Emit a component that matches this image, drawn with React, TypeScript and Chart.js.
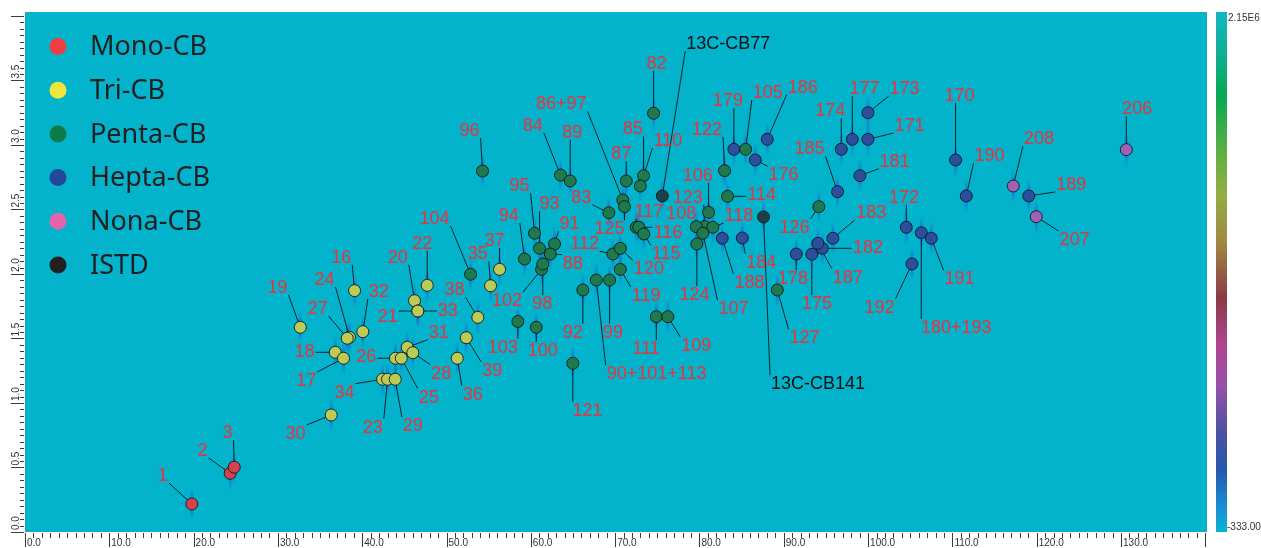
import { useEffect, useRef } from 'react';
import { Chart, registerables } from 'chart.js';

Chart.register(...registerables);

// ---- Axis ranges / ticks ----
const X_MIN = 0;
const X_MAX = 140.2;
const Y_MIN = 0;
const Y_MAX = 4.031;
const X_TICK_LABELS = [0, 10, 20, 30, 40, 50, 60, 70, 80, 90, 100, 110, 120, 130];
const Y_TICK_LABELS = [0, 0.5, 1.0, 1.5, 2.0, 2.5, 3.0, 3.5];
const COLORBAR_MAX = '2.15E6';
const COLORBAR_MIN = '-333.00';

// ---- Mono-CB ----
const MONO_NAMES = ['1', '2', '3'];
const MONO_RT1 = [19.79, 24.34, 24.82];
const MONO_RT2 = [0.217, 0.455, 0.502];
const MONO_LBL_X = [16.35, 21.06, 24.02];
const MONO_LBL_Y = [0.442, 0.636, 0.775];

// ---- Tri-CB ----
const TRI_NAMES = ['19', '16', '24', '27', '32', '18', '17', '20', '22', '21', '33', '31', '28', '26', '25', '34', '23', '29', '30', '35', '37', '38', '39', '36'];
const TRI_RT1 = [32.65, 39.09, 38.49, 38.22, 40.07, 36.8, 37.78, 46.2, 47.71, 46.59, 46.59, 45.34, 46.0, 43.95, 44.63, 42.41, 43.0, 43.91, 36.32, 55.22, 56.29, 53.71, 52.34, 51.27];
const TRI_RT2 = [1.587, 1.871, 1.509, 1.502, 1.553, 1.393, 1.347, 1.793, 1.912, 1.713, 1.713, 1.432, 1.39, 1.347, 1.347, 1.184, 1.184, 1.184, 0.907, 1.909, 2.036, 1.664, 1.506, 1.347];
const TRI_LBL_X = [29.95, 37.51, 35.53, 34.73, 41.97, 33.16, 33.36, 44.22, 47.12, 43.04, 50.15, 49.09, 49.37, 40.47, 47.9, 37.9, 41.26, 46.0, 32.09, 53.71, 55.69, 50.95, 55.42, 53.12];
const TRI_LBL_Y = [1.899, 2.134, 1.959, 1.734, 1.868, 1.405, 1.178, 2.134, 2.243, 1.674, 1.721, 1.553, 1.235, 1.364, 1.049, 1.088, 0.816, 0.829, 0.767, 2.16, 2.264, 1.881, 1.256, 1.07];

// ---- Penta-CB ----
const PENTA_NAMES = ['104', '96', '103', '102', '98', '100', '95', '93', '94', '91', '88', '84', '89', '86+97', '125', '83', '87', '85', '110', '82', '117', '116', '115', '112', '120', '119', '99', '90+101+113', '92', '121', '111', '109', '106', '123', '108', '118', '107', '124', '122', '114', '105', '126', '127'];
const PENTA_RT1 = [52.85, 54.27, 58.46, 61.27, 61.42, 60.64, 60.44, 61.03, 59.25, 62.81, 62.3, 63.52, 64.67, 70.91, 71.11, 69.25, 71.32, 73.37, 72.98, 74.56, 72.5, 72.81, 73.4, 69.73, 70.61, 70.61, 69.34, 67.76, 66.17, 64.98, 74.88, 76.25, 81.08, 80.6, 79.62, 81.59, 80.4, 79.69, 82.98, 83.33, 85.47, 94.16, 89.23];
const PENTA_RT2 = [1.998, 2.798, 1.632, 2.036, 2.078, 1.587, 2.316, 2.199, 2.116, 2.233, 2.155, 2.767, 2.721, 2.574, 2.522, 2.475, 2.721, 2.762, 2.682, 3.246, 2.362, 2.362, 2.31, 2.155, 2.199, 2.036, 1.953, 1.953, 1.876, 1.308, 1.669, 1.669, 2.478, 2.367, 2.367, 2.362, 2.316, 2.233, 2.801, 2.602, 2.967, 2.522, 1.876];
const PENTA_LBL_X = [48.58, 52.73, 56.68, 57.18, 61.35, 61.42, 58.66, 62.22, 57.39, 64.59, 64.98, 60.24, 64.91, 63.61, 69.34, 65.98, 70.72, 72.1, 76.25, 74.91, 74.0, 76.25, 76.06, 66.37, 74.0, 73.68, 69.73, 74.91, 64.98, 66.73, 73.68, 79.62, 79.81, 78.62, 77.84, 84.67, 84.04, 79.42, 80.9, 87.37, 88.11, 91.28, 92.47];
const PENTA_LBL_Y = [2.434, 3.116, 1.436, 1.798, 1.773, 1.411, 2.69, 2.548, 2.457, 2.393, 2.088, 3.155, 3.103, 3.323, 2.354, 2.599, 2.936, 3.129, 3.039, 3.636, 2.491, 2.328, 2.16, 2.238, 2.044, 1.837, 1.553, 1.23, 1.553, 0.946, 1.424, 1.45, 2.767, 2.599, 2.47, 2.457, 1.734, 1.845, 3.126, 2.62, 3.413, 2.367, 1.509];

// ---- Hepta-CB ----
const HEPTA_NAMES = ['179', '186', '176', '188', '184', '178', '185', '174', '177', '173', '171', '181', '183', '182', '187', '175', '172', '180+193', '191', '192', '170', '190', '189'];
const HEPTA_RT1 = [84.08, 88.04, 86.62, 82.7, 85.08, 91.48, 96.38, 96.82, 98.13, 99.98, 99.98, 99.03, 95.82, 94.57, 94.05, 93.33, 104.53, 106.31, 107.5, 105.2, 110.38, 111.65, 119.06];
const HEPTA_RT2 = [2.967, 3.044, 2.884, 2.277, 2.279, 2.155, 2.638, 2.967, 3.044, 3.25, 3.044, 2.762, 2.277, 2.199, 2.238, 2.153, 2.362, 2.32, 2.277, 2.078, 2.884, 2.605, 2.605];
const HEPTA_LBL_X = [83.37, 92.24, 89.98, 85.94, 87.33, 91.08, 93.06, 95.52, 99.58, 104.33, 104.92, 103.14, 100.38, 99.98, 97.6, 93.93, 104.25, 110.46, 110.85, 101.36, 110.85, 114.41, 124.1];
const HEPTA_LBL_Y = [3.349, 3.452, 2.773, 1.936, 2.095, 1.967, 2.974, 3.271, 3.44, 3.44, 3.155, 2.878, 2.483, 2.207, 1.979, 1.773, 2.599, 1.591, 1.967, 1.747, 3.388, 2.922, 2.698];

// ---- Nona-CB ----
const NONA_NAMES = ['208', '207', '206'];
const NONA_RT1 = [117.22, 119.95, 130.63];
const NONA_RT2 = [2.682, 2.444, 2.964];
const NONA_LBL_X = [120.26, 124.5, 131.93];
const NONA_LBL_Y = [3.052, 2.271, 3.284];

// ---- ISTD ----
const ISTD_NAMES = ['13C-CB77', '13C-CB141'];
const ISTD_RT1 = [75.59, 87.6];
const ISTD_RT2 = [2.605, 2.442];
const ISTD_LBL_X = [83.42, 94.07];
const ISTD_LBL_Y = [3.791, 1.153];

const GROUPS = [
  { name: 'Mono-CB', legend: '#EF3E42', fill: '#D8404E', text: '#E8343C', names: MONO_NAMES, x: MONO_RT1, y: MONO_RT2, lx: MONO_LBL_X, ly: MONO_LBL_Y },
  { name: 'Tri-CB', legend: '#EEE63A', fill: '#BCCB55', text: '#E8343C', names: TRI_NAMES, x: TRI_RT1, y: TRI_RT2, lx: TRI_LBL_X, ly: TRI_LBL_Y },
  { name: 'Penta-CB', legend: '#0E7A48', fill: '#1E7A4C', text: '#E8343C', names: PENTA_NAMES, x: PENTA_RT1, y: PENTA_RT2, lx: PENTA_LBL_X, ly: PENTA_LBL_Y },
  { name: 'Hepta-CB', legend: '#22479B', fill: '#2B4E9F', text: '#E8343C', names: HEPTA_NAMES, x: HEPTA_RT1, y: HEPTA_RT2, lx: HEPTA_LBL_X, ly: HEPTA_LBL_Y },
  { name: 'Nona-CB', legend: '#E464A8', fill: '#9C62B6', text: '#E8343C', names: NONA_NAMES, x: NONA_RT1, y: NONA_RT2, lx: NONA_LBL_X, ly: NONA_LBL_Y },
  { name: 'ISTD', legend: '#231F20', fill: '#1C4048', text: '#111111', names: ISTD_NAMES, x: ISTD_RT1, y: ISTD_RT2, lx: ISTD_LBL_X, ly: ISTD_LBL_Y },
];

const BG = '#02B3CB';
const LABEL_FONT = '18px "Liberation Sans", Arial, sans-serif';

const overlayPlugin = {
  id: 'overlay',
  beforeDraw(chart: any) {
    const { ctx, chartArea: a, width, height } = chart;
    ctx.save();
    ctx.fillStyle = '#ffffff';
    ctx.fillRect(0, 0, width, height);
    ctx.fillStyle = BG;
    ctx.fillRect(a.left, a.top, a.right - a.left, a.bottom - a.top);
    ctx.restore();
  },
  beforeDatasetsDraw(chart: any) {
    const { ctx, chartArea: a } = chart;
    const xs = chart.scales.x;
    const ys = chart.scales.y;
    ctx.save();
    ctx.beginPath();
    ctx.rect(a.left, a.top, a.right - a.left, a.bottom - a.top);
    ctx.clip();
    // blue peak streaks
    GROUPS.forEach((g) => {
      g.x.forEach((xv: number, i: number) => {
        const px = xs.getPixelForValue(xv);
        const py = ys.getPixelForValue(g.y[i]);
        const grd = ctx.createLinearGradient(0, py - 17, 0, py + 17);
        grd.addColorStop(0, 'rgba(30,95,215,0)');
        grd.addColorStop(0.5, 'rgba(30,95,215,0.85)');
        grd.addColorStop(1, 'rgba(30,95,215,0)');
        ctx.fillStyle = grd;
        ctx.fillRect(px - 1.5, py - 17, 3, 34);
      });
    });
    // leader lines
    ctx.font = LABEL_FONT;
    ctx.strokeStyle = 'rgba(15,20,25,0.9)';
    ctx.lineWidth = 1;
    GROUPS.forEach((g) => {
      g.names.forEach((n: string, i: number) => {
        const px = xs.getPixelForValue(g.x[i]);
        const py = ys.getPixelForValue(g.y[i]);
        const cx = xs.getPixelForValue(g.lx[i]);
        const cy = ys.getPixelForValue(g.ly[i]);
        const w = ctx.measureText(n).width;
        const l = cx - w / 2 - 1;
        const r = cx + w / 2 + 1;
        const t = cy - 8;
        const b = cy + 8;
        const ax = Math.min(Math.max(px, l), r);
        const ay = Math.min(Math.max(py, t), b);
        if (ax === px && ay === py) return;
        ctx.beginPath();
        ctx.moveTo(ax, ay);
        ctx.lineTo(px, py);
        ctx.stroke();
      });
    });
    ctx.restore();
  },
  afterDatasetsDraw(chart: any) {
    const { ctx, chartArea: a } = chart;
    const xs = chart.scales.x;
    const ys = chart.scales.y;
    ctx.save();
    // point labels
    ctx.font = LABEL_FONT;
    ctx.textAlign = 'center';
    ctx.textBaseline = 'middle';
    GROUPS.forEach((g) => {
      ctx.fillStyle = g.text;
      g.names.forEach((n: string, i: number) => {
        ctx.fillText(n, xs.getPixelForValue(g.lx[i]), ys.getPixelForValue(g.ly[i]) + 1);
      });
    });

    // legend
    GROUPS.forEach((g, i) => {
      const cy = 46.5 + i * 43.7;
      ctx.beginPath();
      ctx.arc(58, cy, 8.5, 0, Math.PI * 2);
      ctx.fillStyle = g.legend;
      ctx.fill();
      ctx.fillStyle = '#231F20';
      ctx.font = '27px "Noto Sans", "Open Sans", sans-serif';
      ctx.textAlign = 'left';
      ctx.textBaseline = 'middle';
      ctx.fillText(g.name, 90, cy + 1);
    });

    // x axis ticks
    ctx.strokeStyle = '#3a3a3a';
    ctx.lineWidth = 1;
    ctx.fillStyle = '#333333';
    ctx.font = '10px "Liberation Sans", Arial, sans-serif';
    for (let v = 0; v <= X_MAX + 1e-6; v += 1) {
      const px = Math.round(xs.getPixelForValue(v)) + 0.5;
      const major = Math.abs(v % 10) < 1e-6;
      ctx.beginPath();
      ctx.moveTo(px, a.bottom + 1);
      ctx.lineTo(px, a.bottom + (major ? 15 : 6));
      ctx.stroke();
    }
    ctx.textAlign = 'left';
    ctx.textBaseline = 'alphabetic';
    X_TICK_LABELS.forEach((v) => {
      const px = xs.getPixelForValue(v);
      ctx.fillText(v.toFixed(1), px + 2, a.bottom + 14);
    });
    // y axis ticks
    for (let k = 0; k * 0.05 <= Y_MAX + 1e-6; k++) {
      const py = Math.round(ys.getPixelForValue(k * 0.05)) + 0.5;
      const major = k % 10 === 0;
      ctx.beginPath();
      ctx.moveTo(a.left - 1, py);
      ctx.lineTo(a.left - (major ? 14 : 5), py);
      ctx.stroke();
    }
    Y_TICK_LABELS.forEach((v) => {
      const py = ys.getPixelForValue(v);
      ctx.save();
      ctx.translate(a.left - 6, py - 2);
      ctx.rotate(-Math.PI / 2);
      ctx.textAlign = 'left';
      ctx.textBaseline = 'alphabetic';
      ctx.fillText(v.toFixed(1), 0, 0);
      ctx.restore();
    });

    // colour bar
    const cbL = a.right + 9;
    const cbW = 11;
    const grd = ctx.createLinearGradient(0, a.top, 0, a.bottom);
    grd.addColorStop(0, '#14B6C2');
    grd.addColorStop(0.07, '#10B09A');
    grd.addColorStop(0.16, '#08A852');
    grd.addColorStop(0.27, '#5DB044');
    grd.addColorStop(0.35, '#92AE42');
    grd.addColorStop(0.44, '#A08A42');
    grd.addColorStop(0.55, '#8A3A46');
    grd.addColorStop(0.64, '#B04490');
    grd.addColorStop(0.72, '#9452A8');
    grd.addColorStop(0.81, '#4A52A2');
    grd.addColorStop(0.88, '#2458AC');
    grd.addColorStop(0.95, '#1A8CD4');
    grd.addColorStop(1, '#06B6D2');
    ctx.fillStyle = grd;
    ctx.fillRect(cbL, a.top, cbW, a.bottom - a.top);
    ctx.fillStyle = '#333333';
    ctx.font = '10px "Liberation Sans", Arial, sans-serif';
    ctx.textAlign = 'left';
    ctx.textBaseline = 'middle';
    ctx.fillText(COLORBAR_MAX, cbL + cbW + 1, a.top + 6);
    ctx.fillText(COLORBAR_MIN, cbL + cbW, a.bottom - 5);
    ctx.restore();
  },
};

export default function App() {
  const ref = useRef<HTMLCanvasElement | null>(null);
  useEffect(() => {
    document.body.style.margin = '0';
    const canvas = ref.current;
    if (!canvas) return;
    const chart = new Chart(canvas, {
      type: 'scatter',
      data: {
        datasets: GROUPS.map((g) => ({
          label: g.name,
          data: g.x.map((xv: number, i: number) => ({ x: xv, y: g.y[i] })),
          backgroundColor: g.fill,
          borderColor: 'rgba(20,25,25,0.9)',
          borderWidth: 1,
          pointRadius: 6,
          pointHoverRadius: 6,
        })),
      },
      options: {
        animation: false,
        responsive: false,
        devicePixelRatio: 1,
        events: [],
        layout: { padding: { left: 25, right: 54, top: 12, bottom: 16 } },
        scales: {
          x: { type: 'linear', min: X_MIN, max: X_MAX, display: false },
          y: { type: 'linear', min: Y_MIN, max: Y_MAX, display: false },
        },
        plugins: { legend: { display: false }, tooltip: { enabled: false } },
      },
      plugins: [overlayPlugin],
    } as any);
    return () => chart.destroy();
  }, []);
  return (
    <div style={{ width: 1261, height: 548 }}>
      <canvas ref={ref} width={1261} height={548} style={{ display: 'block' }} />
    </div>
  );
}
